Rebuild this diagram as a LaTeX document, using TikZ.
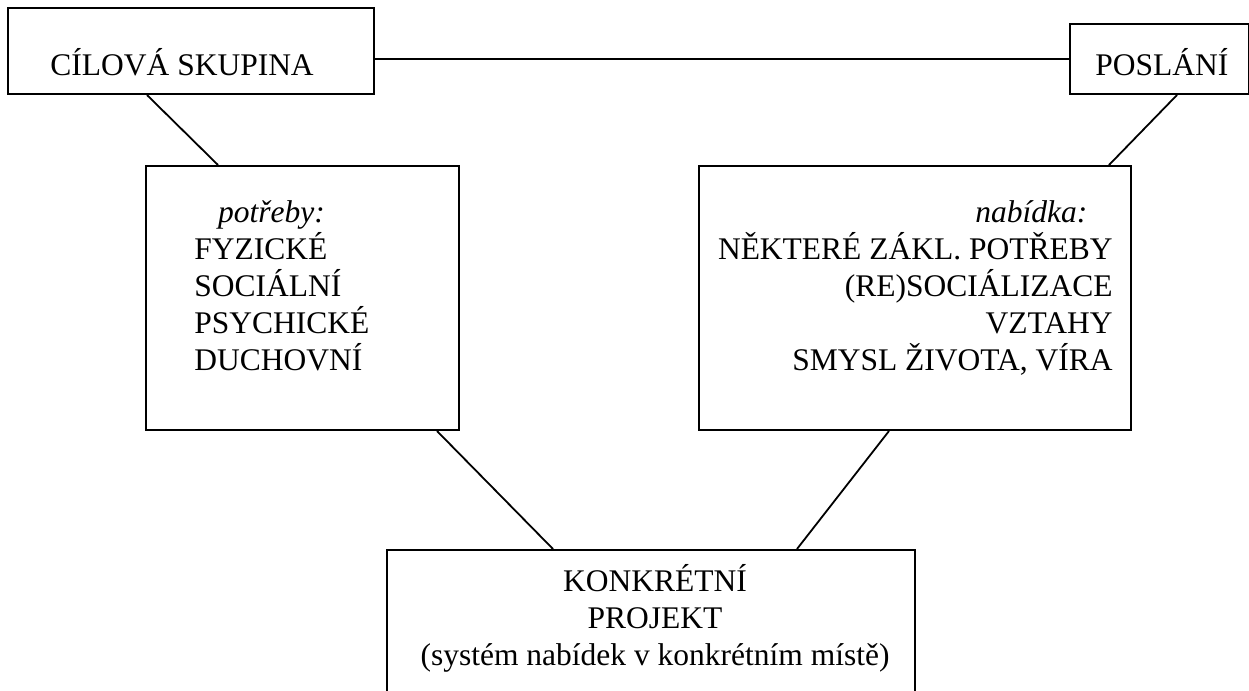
\documentclass[tikz,border=0pt]{standalone}
\usepackage{fontspec}
\setmainfont{Liberation Serif}
\usetikzlibrary{calc}

\tikzset{
  box/.style={draw, line width=1pt, rectangle, inner sep=0pt, anchor=north west},
  txt/.style={inner sep=0pt, font=\fontsize{15.75pt}{18.5pt}\selectfont},
  link/.style={line width=0.9pt}
}

\begin{document}
\begin{tikzpicture}[x=0.5pt,y=-0.5pt]
\clip (0,0) rectangle (1249,691);
% boxes
\node[box, minimum width=183pt, minimum height=43pt] (cil) at (7,7) {};
\node[box, minimum width=89.5pt, minimum height=35pt] (posl) at (1069,23) {};
\node[box, minimum width=156.5pt, minimum height=132pt] (potr) at (145,165) {};
\node[box, minimum width=216pt, minimum height=132pt] (nab) at (698,165) {};
\node[box, minimum width=264pt, minimum height=90pt] (proj) at (386,549) {};
% texts (base = last line)
\node[txt, anchor=base west] (cilt) at (50,75) {CÍLOVÁ SKUPINA};
\node[txt, anchor=base west] (poslt) at (1095,75) {POSLÁNÍ};
\node[txt, anchor=base west, align=left] (potrt) at (194,370)
  {\hspace*{0.75em}\textit{potřeby:}\\ FYZICKÉ\\ SOCIÁLNÍ\\ PSYCHICKÉ\\ DUCHOVNÍ};
\node[txt, anchor=base east, align=right] (nabt) at (1113,370)
  {\textit{nabídka:}\hspace*{0.8em}\\ NĚKTERÉ ZÁKL. POTŘEBY\\ (RE)SOCIÁLIZACE\\ VZTAHY\hspace*{0.2em}\\ SMYSL ŽIVOTA, VÍRA};
\node[txt, anchor=base, align=center] (projt) at (655,665)
  {KONKRÉTNÍ\\ PROJEKT\\ (systém nabídek v konkrétním místě)};
% connectors
\draw[link] (posl.west -| cil.east) -- (posl.west);
\draw[link] ($(cil.south west)+(140,0)$) -- ($(potr.north west)+(73,0)$);
\draw[link] ($(posl.south west)+(108,0)$) -- ($(nab.north east)+(-23,0)$);
\draw[link] ($(potr.south east)+(-23,0)$) -- ($(proj.north west)+(167,0)$);
\draw[link] ($(nab.south west)+(191,0)$) -- ($(proj.north east)+(-119,0)$);
\end{tikzpicture}
\end{document}
